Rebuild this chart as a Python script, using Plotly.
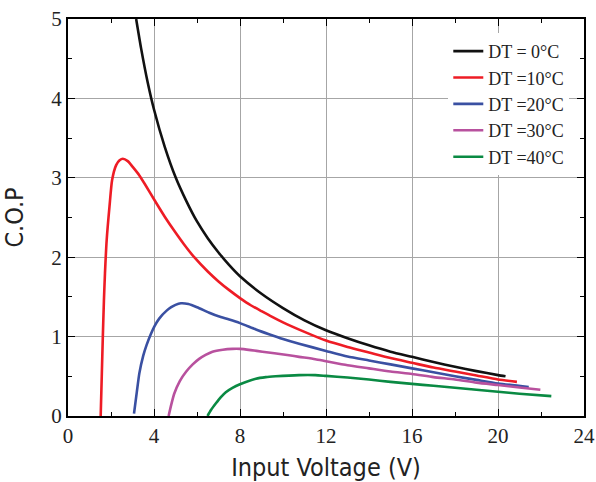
import plotly.graph_objects as go

# ---- data ----
x_dt0 = [3.17, 3.4, 3.7, 4.0, 4.5, 5.0, 5.5, 6.0, 6.5, 7.0, 7.5, 8, 9, 10, 11, 12, 13, 14, 15, 16, 17, 18, 19, 20, 20.35]
y_dt0 = [5.0, 4.63, 4.21, 3.86, 3.39, 3.01, 2.71, 2.45, 2.24, 2.06, 1.90, 1.76, 1.54, 1.36, 1.205, 1.08, 0.98, 0.89, 0.81, 0.745, 0.68, 0.62, 0.565, 0.515, 0.50]

x_dt10 = [1.52, 1.57, 1.62, 1.67, 1.72, 1.80, 1.93, 2.05, 2.24, 2.4, 2.55, 2.78, 3.0, 3.32, 3.6, 4.02, 4.5, 5.0, 5.4, 5.87, 6.5, 7, 7.5, 8, 8.5, 9, 9.35, 10, 11, 12, 13, 14, 15, 16, 17, 18, 19, 20, 20.88]
y_dt10 = [0.0, 0.5, 1.0, 1.45, 1.8, 2.22, 2.64, 2.97, 3.16, 3.22, 3.24, 3.21, 3.14, 3.03, 2.91, 2.72, 2.51, 2.31, 2.16, 2.0, 1.82, 1.695, 1.585, 1.485, 1.395, 1.32, 1.27, 1.18, 1.06, 0.95, 0.87, 0.80, 0.73, 0.67, 0.61, 0.56, 0.51, 0.46, 0.43]

x_dt20 = [3.07, 3.2, 3.32, 3.5, 3.65, 3.85, 4.02, 4.25, 4.6, 4.8, 5.0, 5.25, 5.6, 6.0, 6.57, 7, 7.5, 8, 8.74, 9.35, 10, 10.75, 12, 13, 14, 15, 16, 17, 18, 19, 20, 21.43]
y_dt20 = [0.03, 0.30, 0.54, 0.76, 0.89, 1.03, 1.13, 1.23, 1.33, 1.37, 1.40, 1.42, 1.41, 1.37, 1.30, 1.255, 1.215, 1.17, 1.09, 1.03, 0.97, 0.91, 0.82, 0.75, 0.70, 0.65, 0.60, 0.55, 0.50, 0.455, 0.41, 0.365]

x_dt30 = [4.68, 4.8, 4.94, 5.2, 5.5, 5.8, 6.1, 6.4, 6.72, 7.2, 7.65, 8, 8.5, 9.04, 9.6, 10.28, 10.75, 11.5, 12, 13, 14, 15, 16, 17, 18, 19, 20, 21, 21.97]
y_dt30 = [0.0, 0.14, 0.28, 0.44, 0.56, 0.65, 0.72, 0.77, 0.81, 0.835, 0.845, 0.845, 0.83, 0.81, 0.79, 0.765, 0.745, 0.715, 0.69, 0.64, 0.60, 0.56, 0.53, 0.49, 0.46, 0.42, 0.39, 0.36, 0.33]

x_dt40 = [6.49, 6.65, 6.88, 7.1, 7.34, 7.65, 8, 8.74, 9.2, 9.66, 10.75, 11.5, 12, 13, 14, 15, 16, 17, 18, 19, 20, 21, 22.48]
y_dt40 = [0.0, 0.075, 0.16, 0.235, 0.30, 0.355, 0.40, 0.47, 0.49, 0.50, 0.515, 0.515, 0.505, 0.485, 0.46, 0.43, 0.405, 0.38, 0.355, 0.33, 0.305, 0.28, 0.25]

series_names = ["DT = 0°C", "DT =10°C", "DT =20°C", "DT =30°C", "DT =40°C"]
series_x = [x_dt0, x_dt10, x_dt20, x_dt30, x_dt40]
series_y = [y_dt0, y_dt10, y_dt20, y_dt30, y_dt40]
series_colors = ["#111111", "#ee1c25", "#3a50a2", "#b8519e", "#0a8a43"]

x_ticks = [0, 4, 8, 12, 16, 20, 24]
y_ticks = [0, 1, 2, 3, 4, 5]

fig = go.Figure()
for name, xs, ys, c in zip(series_names, series_x, series_y, series_colors):
    fig.add_trace(go.Scatter(x=xs, y=ys, mode="lines", name=name,
                             line=dict(color=c, width=2.6, shape="spline", smoothing=0.6)))

serif = "Liberation Serif, Times New Roman, serif"
narrow = "Liberation Sans Narrow, DejaVu Sans Condensed, Arial Narrow, sans-serif"

axis_common = dict(
    showline=True, linecolor="black", linewidth=2, mirror="allticks",
    ticks="inside", ticklen=7, tickwidth=1.3, tickcolor="black",
    showgrid=True, gridcolor="#a6a6a6", gridwidth=1,
    zeroline=False, automargin=False, ticklabeloverflow="allow",
    tickfont=dict(family=serif, size=21, color="#222222"),
)

fig.update_xaxes(range=[0, 24], tickvals=x_ticks, ticktext=[str(v) for v in x_ticks],
                 minor=dict(dtick=2, ticks="inside", ticklen=4, tickwidth=1.2, tickcolor="black", showgrid=False),
                 title=dict(text="Input Voltage (V)", font=dict(family=narrow, size=25, color="#222222"), standoff=18),
                 **axis_common)
fig.update_yaxes(range=[0, 5], tickvals=y_ticks, ticktext=[str(v) for v in y_ticks],
                 minor=dict(dtick=0.5, ticks="inside", ticklen=4, tickwidth=1.2, tickcolor="black", showgrid=False),
                 title=dict(text="C.O.P", font=dict(family=narrow, size=25, color="#222222"), standoff=21),
                 **axis_common)

fig.update_layout(
    width=596, height=482,
    margin=dict(l=68, r=12, t=19, b=66),
    paper_bgcolor="white", plot_bgcolor="white",
    showlegend=True,
    legend=dict(x=0.737, y=0.965, xanchor="left", yanchor="top",
                bgcolor="rgba(255,255,255,1)", borderwidth=0,
                font=dict(family=serif, size=18, color="#222222"),
                tracegroupgap=0, itemwidth=30),
)

# remove the default 8px page margin so the figure fills the window exactly
fig.write_html("out.html", config={"displayModeBar": False},
               post_script="document.body.style.margin='0px';")
